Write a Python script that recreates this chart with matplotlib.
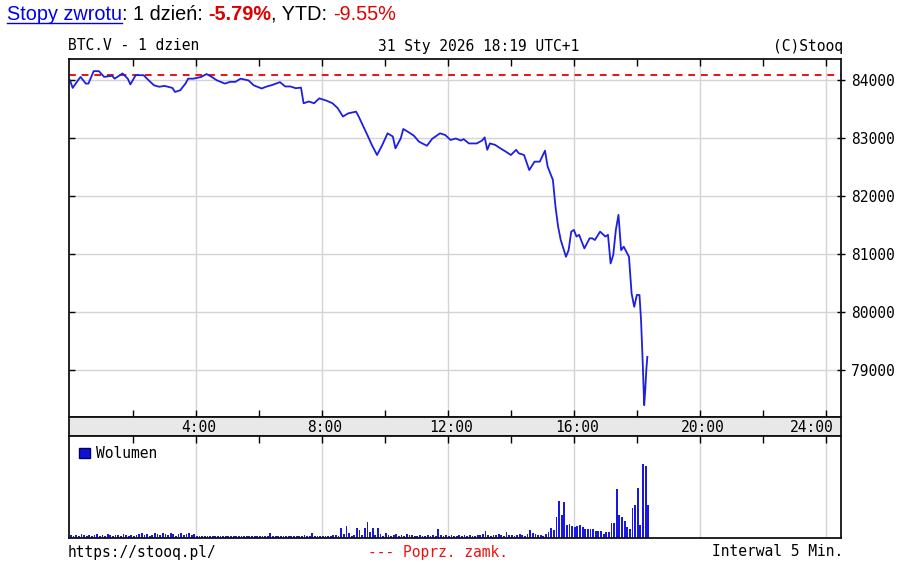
import matplotlib
matplotlib.use('Agg')
import numpy as np
import matplotlib.pyplot as plt
from matplotlib.patches import Patch

# price readings: minutes since midnight / price
price_min = [0, 5, 15, 20, 30, 35, 45, 55, 65, 80, 85, 100, 110, 115, 125, 140,
             150, 160, 170, 180, 195, 200, 210, 220, 225, 235, 250, 260, 270, 280,
             295, 305, 315, 325, 340, 350, 365, 375, 385, 400, 410, 420, 430, 440,
             445, 455, 465, 475, 490, 500, 510, 520, 530, 545, 550, 565, 575, 585,
             595, 605, 615, 620, 630, 635, 645, 655, 665, 680, 690, 705, 715, 725,
             735, 745, 750, 760, 775, 785, 790, 795, 800, 810, 820, 830, 840, 850,
             855, 865, 875, 885, 895, 905, 910, 920, 925, 930, 935, 945, 950, 955,
             960, 965, 970, 980, 990, 995, 1000, 1010, 1020, 1025, 1030, 1035, 1040,
             1045, 1050, 1055, 1065, 1070, 1075, 1080, 1085, 1088, 1091, 1094, 1096,
             1098, 1100]
price_val = [84000, 83870, 84000, 84060, 83945, 83945, 84160, 84160, 84060, 84080,
             84030, 84120, 84030, 83930, 84090, 84090, 84000, 83915, 83890, 83905,
             83870, 83800, 83830, 83945, 84030, 84030, 84060, 84110, 84060, 84000,
             83945, 83975, 83975, 84030, 84000, 83915, 83860, 83895, 83920, 83970,
             83895, 83895, 83865, 83875, 83605, 83635, 83605, 83690, 83645, 83605,
             83520, 83375, 83430, 83460, 83375, 83085, 82885, 82710, 82885, 83085,
             83030, 82825, 82995, 83160, 83105, 83045, 82940, 82870, 82990, 83085,
             83055, 82970, 82995, 82960, 82985, 82910, 82910, 82960, 83015, 82800,
             82910, 82885, 82825, 82770, 82710, 82800, 82740, 82710, 82450, 82595,
             82595, 82785, 82510, 82280, 81815, 81470, 81240, 80950, 81065, 81385,
             81415, 81300, 81330, 81095, 81270, 81270, 81240, 81385, 81300, 81330,
             80835, 80980, 81415, 81675, 81065, 81125, 80950, 80315, 80085, 80290,
             80290, 79855, 79165, 78385, 78645, 78990, 79220]
prev_close = 84087

# volume per 5 min from 0:00
volume = [3, 2, 3, 2, 4, 3, 2, 3, 2, 3, 4, 2,
          3, 2, 4, 3, 2, 3, 3, 2, 4, 3, 2, 3,
          2, 3, 4, 5, 3, 4, 2, 3, 5, 4, 3, 5,
          4, 3, 5, 4, 2, 4, 5, 3, 4, 5, 3, 4,
          2, 2, 2, 2, 1.5, 2, 1.5, 2, 2, 1.5, 2, 2,
          2, 2, 1.5, 2, 2, 1.5, 2, 2, 2, 1.5, 2, 2,
          2, 2, 1.5, 2, 5, 2, 2, 1.5, 2, 2, 2, 1.5,
          2, 2, 1.5, 2, 2, 3, 2, 2, 5, 2, 2, 2,
          2, 2, 2, 2, 3, 3, 2, 10, 4, 12, 5, 2,
          3, 10, 8, 3, 10, 16, 6, 10, 3, 10, 4, 2,
          5, 3, 2, 3, 4, 2, 3, 2, 4, 3, 3, 2,
          2, 3, 2, 2, 3, 2, 3, 2, 9, 3, 2, 3,
          2, 3, 2, 2, 3, 2, 3, 2, 3, 2, 2, 3,
          3, 4, 7, 3, 2, 3, 3, 4, 3, 2, 6, 3,
          3, 2, 3, 4, 3, 2, 4, 8, 5, 4, 3, 3,
          2.3, 4, 5.7, 10, 7.7, 20.7, 37, 23, 35.7, 13.3, 14.3, 11.7,
          11, 12.3, 13.3, 10.7, 9, 9, 9, 9, 6.7, 7.3, 7.3, 4.3,
          5.7, 5.7, 15, 15, 48.3, 23, 20.7, 16.7, 10.7, 9, 30, 32.7,
          49.3, 13.3, 73.3, 71.7, 32.3]

hour_ticks = [240, 480, 720, 960, 1200, 1440]
hour_labels = ['4:00', '8:00', '12:00', '16:00', '20:00', '24:00']
price_ticks = [79000, 80000, 81000, 82000, 83000, 84000]

W, H = 909, 570
def fx(p): return p / W
def fy(p): return 1 - p / H

mono = 'DejaVu Sans Mono'
fs = 10.5
grid_c = '#d4d4d4'
blue = '#1f1fe0'
xlim = (-2, 1469)

fig = plt.figure(figsize=(W / 100, H / 100), dpi=100)
fig.patch.set_facecolor('white')

L, R = 69, 841
ax = fig.add_axes([fx(L), fy(417), fx(R) - fx(L), fy(59) - fy(417)])
band = fig.add_axes([fx(L), fy(436), fx(R) - fx(L), fy(417) - fy(436)])
axv = fig.add_axes([fx(L), fy(538), fx(R) - fx(L), fy(436) - fy(538)])

# price panel
for m in hour_ticks:
    ax.axvline(m, color=grid_c, lw=1, zorder=0)
for p in price_ticks:
    ax.axhline(p, color=grid_c, lw=1, zorder=0)
ax.axhline(prev_close, color='#ee1111', lw=1.4, ls=(0, (3.5, 3)), zorder=1)
ax.plot(price_min, price_val, color=blue, lw=1.3, zorder=2)
ax.set_xlim(*xlim)
ax.set_ylim(78180, 84370)
ax.set_xticks(np.arange(120, 1441, 120))
ax.tick_params(axis='x', which='both', direction='in', length=5, top=True, bottom=True,
               labelbottom=False, width=1)
ax.yaxis.tick_right()
ax.set_yticks(price_ticks)
ax.set_yticklabels([str(p) for p in price_ticks], fontfamily=mono, fontsize=fs)
ax.tick_params(axis='y', direction='inout', length=6, width=1, left=False, right=True,
               labelleft=False, labelright=True, pad=4)
sec = ax.secondary_yaxis('left')
sec.set_yticks(price_ticks)
sec.tick_params(direction='in', length=4, width=1, labelleft=False)
sec.spines['left'].set_visible(False)

# x label band
band.set_facecolor('#e8e8e8')
band.set_xlim(*xlim)
band.set_ylim(0, 1)
band.set_xticks([])
band.set_yticks([])
for m, lab in zip(hour_ticks, hour_labels):
    ha = 'right' if m == 1440 else 'center'
    xpos = m + 14 if m == 1440 else m + 6
    band.text(xpos, 0.45, lab, ha=ha, va='center', fontfamily=mono, fontsize=fs)

# volume panel
for m in hour_ticks:
    axv.axvline(m, color=grid_c, lw=1, zorder=0)
axv.bar(np.arange(len(volume)) * 5, volume, width=3.4, align='edge',
        color='#1818e0', edgecolor='none', zorder=2)
axv.set_xlim(*xlim)
axv.set_ylim(0, 101)
axv.set_yticks([])
axv.set_xticks(np.arange(120, 1441, 120))
axv.tick_params(axis='x', which='both', direction='in', length=5, top=True,
                bottom=False, labelbottom=False, width=1)
axv.legend(handles=[Patch(facecolor='#1010d8', edgecolor='#000060', label='Wolumen')],
           loc='upper left', frameon=False, handlelength=0.75, handleheight=0.75,
           handletextpad=0.4, borderaxespad=0.3,
           prop={'family': mono, 'size': fs})

for a in (ax, band, axv):
    for s in a.spines.values():
        s.set_linewidth(1.3)
        s.set_color('#111111')

# header / footer
fig.text(fx(68), fy(46), 'BTC.V - 1 dzien', fontfamily=mono, fontsize=fs, va='center')
fig.text(fx(378), fy(46), '31 Sty 2026 18:19 UTC+1', fontfamily=mono, fontsize=fs, va='center')
fig.text(fx(843), fy(46), '(C)Stooq', fontfamily=mono, fontsize=fs, va='center', ha='right')
fig.text(fx(68), fy(552), 'https://stooq.pl/', fontfamily=mono, fontsize=fs, va='center')
fig.text(fx(368), fy(552), '--- Poprz. zamk.', fontfamily=mono, fontsize=fs, va='center',
         color='#ee1111')
fig.text(fx(843), fy(552), 'Interwal 5 Min.', fontfamily=mono, fontsize=fs, va='center', ha='right')

# top line of returns
renderer = fig.canvas.get_renderer()
parts = [('Stopy zwrotu', '#0000ee', 'normal'), (': 1 dzień: ', 'black', 'normal'),
         ('-5.79%', '#dd0000', 'bold'), (', YTD: ', 'black', 'normal'),
         ('-9.55%', '#dd0000', 'normal')]
xpos = 7
for txt, col, wt in parts:
    t = fig.text(fx(xpos), fy(20), txt, color=col, fontweight=wt, fontsize=14.3,
                 fontfamily='Liberation Sans', va='baseline')
    bb = t.get_window_extent(renderer)
    if txt == 'Stopy zwrotu':
        fig.add_artist(plt.Line2D([fx(xpos), fx(xpos + bb.width)], [fy(23), fy(23)],
                                  color='#0000ee', lw=1))
    xpos += bb.width

fig.savefig('out.png', dpi=100)
